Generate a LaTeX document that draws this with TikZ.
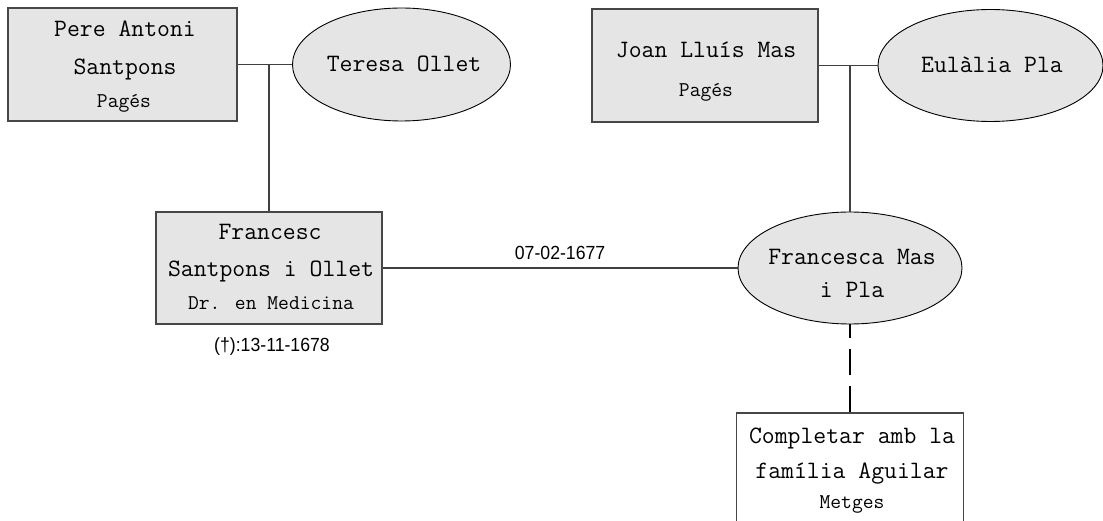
\documentclass[tikz,border=0pt]{standalone}
\usepackage{fontspec}
\newfontfamily\datefont{Liberation Sans}[FakeStretch=0.93]
\usetikzlibrary{shapes.geometric}
\tikzset{
  pbox/.style={rectangle, draw=black!72, line width=1.3pt, fill=black!10, inner sep=0pt},
  pell/.style={ellipse, draw=black, line width=0.9pt, fill=black!10, inner sep=0pt},
  wbox/.style={rectangle, draw=black!72, line width=1.3pt, fill=white, inner sep=0pt},
  maintxt/.style={font=\ttfamily\fontsize{25}{25}\selectfont, anchor=base, inner sep=0pt},
  subtxt/.style={font=\ttfamily\fontsize{21}{21}\selectfont, anchor=base, inner sep=0pt},
  datetxt/.style={font=\datefont\fontsize{19}{19}\selectfont, anchor=base, inner sep=0pt},
  link/.style={draw=black!75, line width=1.3pt},
  dlink/.style={draw=black, line width=1.1pt, dash pattern=on 26pt off 11pt},
}
\begin{document}
\begin{tikzpicture}[x=1pt,y=-1pt]
\useasboundingbox (0,0) rectangle (1103,521);
\clip (0,0) rectangle (1103,521);
% persons
\node[pbox, minimum width=229pt, minimum height=113pt] (pere) at (122.5,64.5) {};
\node[pell, minimum width=218pt, minimum height=113pt] (teresa) at (401.5,64.5) {};
\node[pbox, minimum width=226pt, minimum height=113pt] (joan) at (705,65.5) {};
\node[pell, minimum width=225pt, minimum height=112pt] (eulalia) at (990.5,65.5) {};
\node[pbox, minimum width=226pt, minimum height=112pt] (francesc) at (269,268) {};
\node[pell, minimum width=224pt, minimum height=112pt] (francesca) at (850,268) {};
\node[wbox, minimum width=227pt, minimum height=130pt] (completar) at (850,478) {};
% texts
\node[maintxt] (t1a) at (125,37) {Pere Antoni};
\node[maintxt] (t1b) at (125,75) {Santpons};
\node[subtxt]  (t1c) at (124,108) {Pagés};
\node[maintxt] (t2) at (404,72) {Teresa Ollet};
\node[maintxt] (t3a) at (706,58) {Joan Lluís Mas};
\node[subtxt]  (t3b) at (706,97) {Pagés};
\node[maintxt] (t4) at (992,73) {Eulàlia Pla};
\node[maintxt] (t5a) at (270,240) {Francesc};
\node[maintxt] (t5b) at (271,277) {Santpons i Ollet};
\node[subtxt]  (t5c) at (271,310) {Dr. en Medicina};
\node[datetxt] (t5d) at (272,352) {(†):13-11-1678};
\node[maintxt] (t6a) at (852,265) {Francesca Mas};
\node[maintxt] (t6b) at (852,298) {i Pla};
\node[maintxt] (t7a) at (852,443) {Completar amb la};
\node[maintxt] (t7b) at (852,478) {família Aguilar};
\node[subtxt]  (t7c) at (852,508) {Metges};
% connectors
\draw[link] (pere.east) -- (teresa.west);
\draw[link] (joan.east) -- (eulalia.west);
\draw[link] (francesc.north |- pere.east) -- (francesc.north);
\draw[link] (francesca.north |- joan.east) -- (francesca.north);
\draw[link] (francesc.east) -- node[datetxt, anchor=base, yshift=8pt] (d1) {07-02-1677} (francesca.west);
\draw[dlink] (completar.north) -- (francesca.south);
\end{tikzpicture}
\end{document}
